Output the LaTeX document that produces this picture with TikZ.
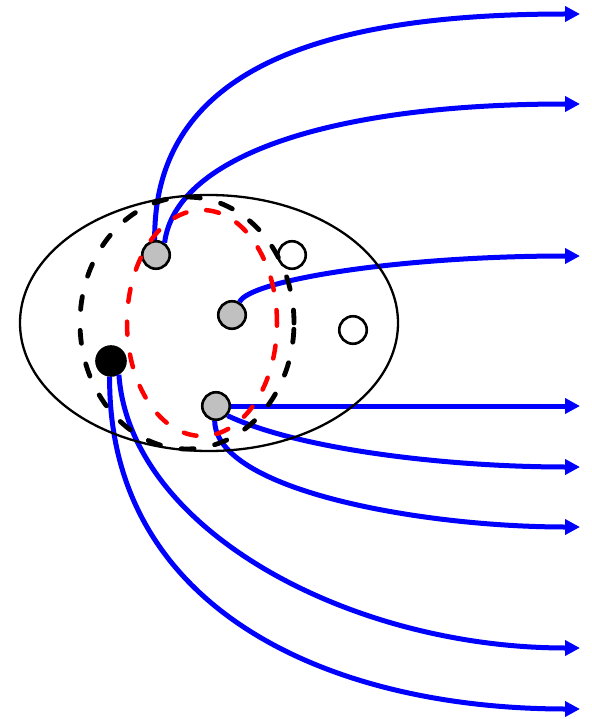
\documentclass[tikz,border=0pt]{standalone}
\usetikzlibrary{arrows.meta}
\definecolor{nodegray}{RGB}{192,192,192}
\begin{document}
\begin{tikzpicture}[x=1pt,y=-1pt,
  agent/.style={circle, draw=black, line width=2.6pt, inner sep=0pt, minimum size=27.5pt, fill=nodegray},
  blackagent/.style={agent, fill=black, minimum size=29pt},
  freeagent/.style={agent, fill=white},
  flow/.style={draw=blue, line width=5pt, -{Triangle[length=15pt,width=15pt]}},
  outer/.style={draw=black, dash pattern=on 13pt off 21pt, line cap=round, line width=4.8pt},
  inner/.style={draw=red, dash pattern=on 13pt off 20pt, line cap=round, line width=4.5pt}]
\useasboundingbox (0,0) rectangle (591,719);
\node[agent] (a) at (156,255) {};
\node[agent] (b) at (232,315) {};
\node[agent] (c) at (216,406) {};
\node[blackagent] (d) at (111,361) {};
\node[freeagent] (e) at (292,255) {};
\node[freeagent] (f) at (353,330) {};
\coordinate (o1) at (580,14);
\coordinate (o2) at (580,104);
\coordinate (o3) at (580,256);
\coordinate (o4) at (580,406);
\coordinate (o5) at (580,467);
\coordinate (o6) at (580,527);
\coordinate (o7) at (580,648);
\coordinate (o8) at (580,709);
\draw[flow] (a.95) .. controls (153,60) and (340,14) .. (o1);
\draw[flow] (a.55) .. controls (175,160) and (320,104) .. (o2);
\draw[flow] (b.60) .. controls (250,280) and (400,256) .. (o3);
\draw[flow] (c.east) -- (o4);
\draw[flow] (c.-40) .. controls (300,450) and (450,467) .. (o5);
\draw[flow] (c.-95) .. controls (216,490) and (420,527) .. (o6);
\draw[flow] (d.-60) .. controls (130,530) and (350,648) .. (o7);
\draw[flow] (d.-95) .. controls (108,610) and (330,709) .. (o8);
\draw[line width=2.3pt] (209,323) ellipse [x radius=189pt, y radius=128pt];
\draw[outer] (187,323) ellipse [x radius=107pt, y radius=126pt];
\draw[inner] (202,323) ellipse [x radius=75pt, y radius=113pt];
\end{tikzpicture}
\end{document}
